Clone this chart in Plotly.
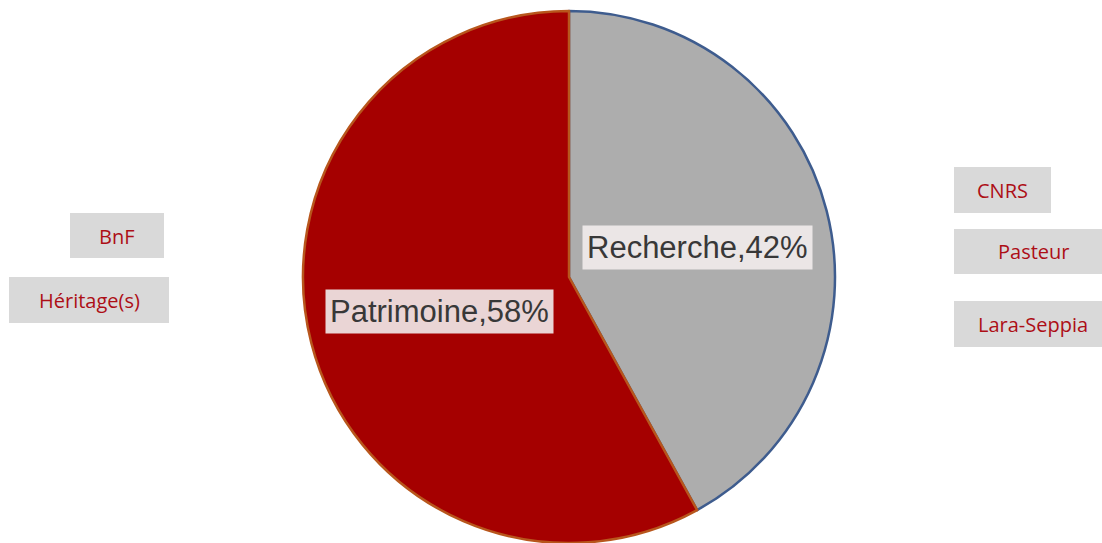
import plotly.graph_objects as go

# Data
categories = ["Recherche", "Patrimoine"]
shares = [42, 58]
left_tags = ["BnF", "Héritage(s)"]
right_tags = ["CNRS", "Pasteur", "Lara-Seppia"]

W, H = 1102, 543

def px(x):
    return x / W

def py(y):
    return 1 - y / H

fig = go.Figure()
fig.add_trace(go.Pie(
    labels=categories,
    values=shares,
    sort=False,
    direction="clockwise",
    rotation=0,
    textinfo="none",
    hoverinfo="label+percent",
    marker=dict(colors=["#ADADAD", "#A50000"],
                line=dict(color=["#3E5C8E", "#B8561C"], width=2.5)),
    domain=dict(x=[px(569 - 300), px(569 + 300)], y=[0, py(11)]),
    showlegend=False,
))

# Slice labels with boxes
label_pos = [(697, 247), (439, 311)]
annotations = []
for cat, val, (x, y) in zip(categories, shares, label_pos):
    annotations.append(dict(
        x=px(x), y=py(y), xref="paper", yref="paper",
        text=f"{cat},{val}%", showarrow=False,
        font=dict(family="Liberation Sans, Arial", size=31, color="#383838"),
        bgcolor="rgba(242,236,236,0.9)", borderpad=4,
        xanchor="center", yanchor="middle",
    ))

# Side tag boxes (x0, y0, x1, y1) and text centres
left_boxes = [(70, 213, 164, 258), (9, 277, 169, 323)]
left_text = [(117, 236), (89, 300)]
right_boxes = [(954, 167, 1051, 213), (954, 229, 1102, 274), (954, 301, 1102, 347)]
right_text = [(1002, 190), (1033, 252), (1033, 324)]

shapes = []
for tags, boxes, centers in [(left_tags, left_boxes, left_text), (right_tags, right_boxes, right_text)]:
    for t, (x0, y0, x1, y1), (cx, cy) in zip(tags, boxes, centers):
        shapes.append(dict(type="rect", xref="paper", yref="paper",
                           x0=px(x0), x1=px(x1), y0=py(y1), y1=py(y0),
                           fillcolor="#D9D9D9", line=dict(width=0), layer="below"))
        annotations.append(dict(
            x=px(cx), y=py(cy), xref="paper", yref="paper", text=t,
            showarrow=False, xanchor="center", yanchor="middle",
            font=dict(family="Open Sans, Noto Sans, sans-serif", size=20, color="#AD0E16"),
        ))

fig.update_layout(
    width=W, height=H,
    margin=dict(l=0, r=0, t=0, b=0),
    paper_bgcolor="white", plot_bgcolor="white",
    annotations=annotations, shapes=shapes,
)

fig.write_html("out.html", config={"displayModeBar": False},
               post_script="document.body.style.margin='0px';")
